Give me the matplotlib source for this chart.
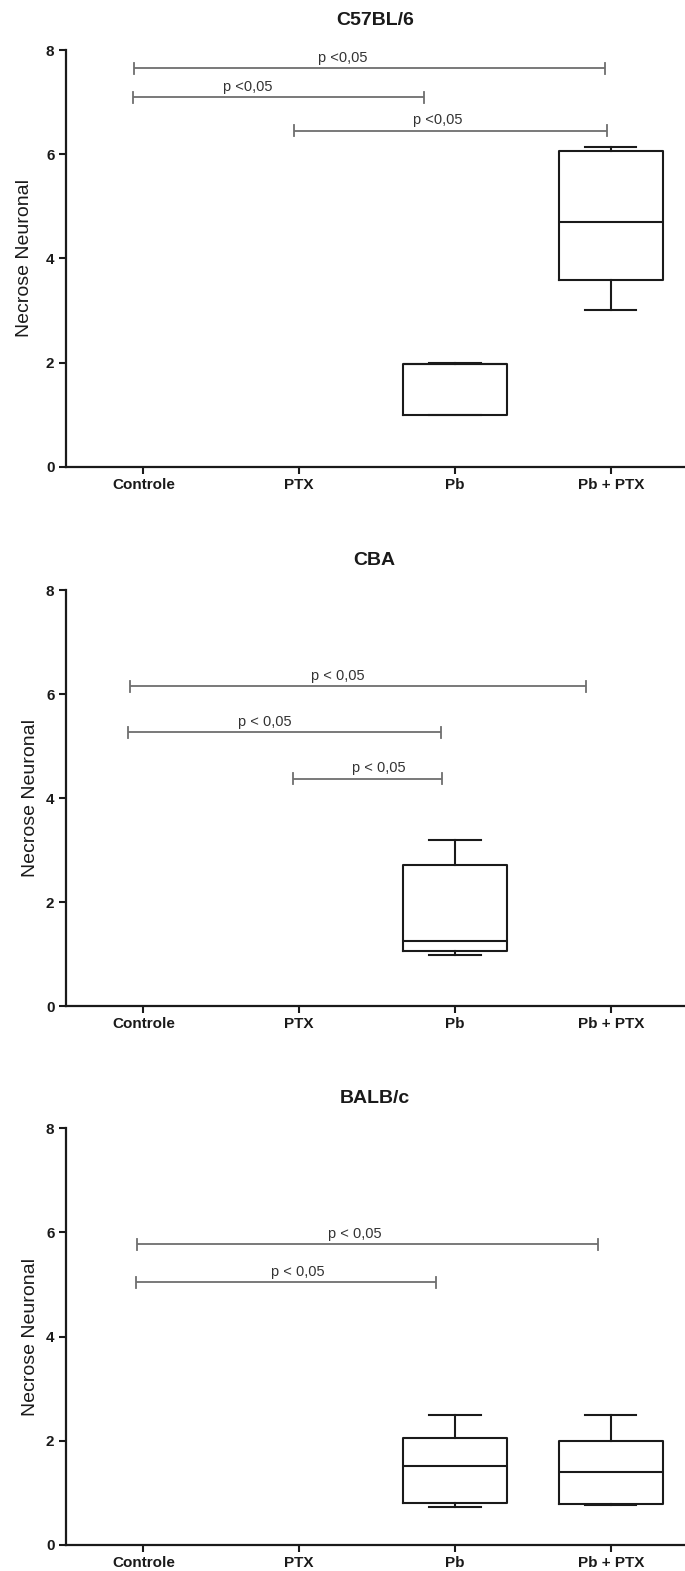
import matplotlib
matplotlib.use("Agg")
import matplotlib.pyplot as plt

plt.rcParams['font.family'] = ['Liberation Sans', 'DejaVu Sans']

groups = ["Controle", "PTX", "Pb", "Pb + PTX"]
strains = ["C57BL/6", "CBA", "BALB/c"]

# box summaries per strain: (group index, whislo, q1, med, q3, whishi)
c57_boxes = [(2, 0.99, 1.0, 1.97, 1.97, 2.0),
             (3, 3.0, 3.58, 4.70, 6.07, 6.14)]
cba_boxes = [(2, 0.99, 1.05, 1.25, 2.71, 3.19)]
balb_boxes = [(2, 0.72, 0.80, 1.51, 2.05, 2.50),
              (3, 0.76, 0.78, 1.40, 2.00, 2.50)]

# significance brackets: (x start, x end, height, label x)
c57_sig = [(-0.06, 2.96, 7.65, 1.28),
           (-0.066, 1.80, 7.09, 0.67),
           (0.967, 2.975, 6.45, 1.89)]
cba_sig = [(-0.087, 2.84, 6.15, 1.245),
           (-0.096, 1.91, 5.26, 0.78),
           (0.96, 1.915, 4.37, 1.51)]
balb_sig = [(-0.04, 2.92, 5.77, 1.36),
            (-0.045, 1.875, 5.04, 0.99)]

p_labels = ["p <0,05", "p < 0,05", "p < 0,05"]

fig = plt.figure(figsize=(6.85, 15.71), dpi=100)
H = 1571.0
W = 685.0
# pixel rows of each plot area (top, bottom) and right edge of the y label
frames = [(50.0, 466.7, 33), (590.0, 1006.0, 39), (1128.3, 1545.0, 39)]
left_px, right_px = 65.5, 684.0

all_boxes = [c57_boxes, cba_boxes, balb_boxes]
all_sig = [c57_sig, cba_sig, balb_sig]

for k in range(3):
    top, bot, ylab_x = frames[k]
    ax = fig.add_axes([left_px / W, 1 - bot / H, (right_px - left_px) / W, (bot - top) / H])

    stats = []
    pos = []
    for g, lo, q1, med, q3, hi in all_boxes[k]:
        stats.append(dict(whislo=lo, q1=q1, med=med, q3=q3, whishi=hi, fliers=[]))
        pos.append(g)
    lw = 1.5
    ax.bxp(stats, positions=pos, widths=0.67, capwidths=0.33, showfliers=False,
           boxprops=dict(color='#1a1a1a', linewidth=lw),
           medianprops=dict(color='#1a1a1a', linewidth=lw),
           whiskerprops=dict(color='#1a1a1a', linewidth=lw),
           capprops=dict(color='#1a1a1a', linewidth=lw))

    for x1, x2, y, tx in all_sig[k]:
        ax.plot([x1, x2], [y, y], color='#6e6e6e', linewidth=1.3, solid_capstyle='butt')
        for xe in (x1, x2):
            ax.plot([xe, xe], [y - 0.105, y + 0.105], color='#6e6e6e', linewidth=1.3)
        ax.text(tx, y + 0.07, p_labels[k], ha='center', va='bottom', fontsize=10.5, color='#333333')

    ax.set_xlim(-0.5, 3.47)
    ax.set_ylim(0, 8)
    ax.set_yticks([0, 2, 4, 6, 8])
    ax.set_xticks(range(4))
    ax.set_xticklabels(groups)
    for lab in ax.get_xticklabels() + ax.get_yticklabels():
        lab.set_fontweight('bold')
        lab.set_fontsize(11)
        lab.set_color('#1a1a1a')
    ax.tick_params(direction='out', length=5, width=1.5, color='#1a1a1a', pad=3)

    for s in ('top', 'right'):
        ax.spines[s].set_visible(False)
    for s in ('left', 'bottom'):
        ax.spines[s].set_linewidth(1.6)
        ax.spines[s].set_color('#1a1a1a')

    ax.set_ylabel("Necrose Neuronal", fontsize=14, color='#1a1a1a')
    ax.yaxis.set_label_coords((ylab_x - left_px) / (right_px - left_px), 0.5)

    ax.set_title(strains[k], fontsize=14, fontweight='bold', color='#1a1a1a', pad=18)

fig.savefig("out.png", dpi=100, facecolor='white')
